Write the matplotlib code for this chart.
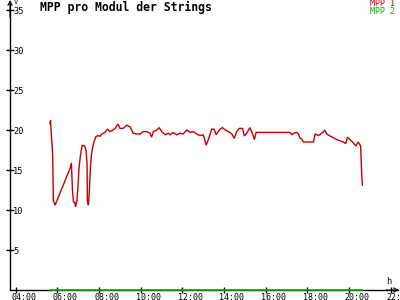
import matplotlib
matplotlib.use("Agg")
import matplotlib.pyplot as plt
from matplotlib.transforms import ScaledTranslation, blended_transform_factory

title = "MPP pro Modul der Strings"
series_names = ["MPP 1", "MPP 2"]
series_colors = ["#c40000", "#00b400"]

times = ["05:39", "05:41", "05:42", "05:47", "05:49", "05:54", "06:37", "06:41", "06:44", "06:47",
         "06:50", "06:53", "06:57", "07:00", "07:03", "07:07", "07:12", "07:19", "07:23", "07:26",
         "07:27", "07:30", "07:33", "07:36", "07:39", "07:43", "07:46", "07:52", "07:58", "08:03",
         "08:09", "08:18", "08:24", "08:32", "08:41", "08:47", "08:55", "09:01", "09:10", "09:20",
         "09:30", "09:39", "09:49", "09:59", "10:08", "10:18", "10:27", "10:32", "10:37", "10:47",
         "10:54", "11:01", "11:11", "11:20", "11:25", "11:34", "11:44", "11:54", "12:03", "12:13",
         "12:23", "12:32", "12:42", "12:51", "13:01", "13:09", "13:15", "13:20", "13:25", "13:32",
         "13:38", "13:44", "13:49", "13:56", "14:04", "14:13", "14:23", "14:30", "14:37", "14:45",
         "14:54", "14:59", "15:06", "15:15", "15:23", "15:28", "15:33", "15:39", "17:11", "17:16",
         "17:22", "17:30", "17:35", "17:39", "17:44", "17:49", "18:18", "18:23", "18:28", "18:32",
         "18:39", "18:45", "18:51", "18:56", "19:06", "19:25", "19:44", "19:51", "19:56", "20:03",
         "20:11", "20:20", "20:27", "20:34", "20:37", "20:39"]

mpp1 = [20.8, 21.2, 20.2, 17.0, 11.2, 10.6, 15.2, 15.9, 12.5, 11.0,
        11.0, 10.4, 11.2, 13.0, 15.3, 16.8, 18.1, 18.0, 17.5, 15.8,
        11.1, 10.6, 12.7, 15.5, 17.0, 18.0, 18.5, 19.2, 19.3, 19.2,
        19.5, 19.7, 20.1, 19.8, 20.0, 20.2, 20.75, 20.2, 20.2, 20.6,
        20.4, 19.6, 19.5, 19.5, 19.8, 19.8, 19.6, 19.1, 19.8, 20.0,
        20.3, 19.8, 19.4, 19.6, 19.4, 19.7, 19.4, 19.6, 19.5, 20.0,
        19.7, 19.8, 19.5, 19.3, 19.4, 18.1, 18.75, 19.4, 20.1, 20.1,
        19.4, 19.8, 20.1, 20.3, 20.0, 19.8, 19.5, 18.95, 19.8, 20.2,
        20.2, 19.25, 19.6, 20.3, 19.5, 18.8, 19.7, 19.7, 19.7, 19.4,
        19.6, 19.7, 19.5, 19.0, 18.9, 18.5, 18.5, 19.5, 19.4, 19.3,
        19.5, 19.7, 20.0, 19.5, 19.25, 18.8, 18.5, 18.3, 19.1, 18.8,
        18.5, 18.0, 18.5, 18.0, 14.6, 13.1]

mpp2 = [0.0] * len(times)

x_ticks = [4, 6, 8, 10, 12, 14, 16, 18, 20, 22]
x_tick_labels = ["04:00", "06:00", "08:00", "10:00", "12:00", "14:00", "16:00", "18:00", "20:00", "22:00"]
y_ticks = [5, 10, 15, 20, 25, 30, 35]
y_tick_labels = ["5", "10", "15", "20", "25", "30", "35"]


def to_hours(t):
    h, m = t.split(":")
    return int(h) + int(m) / 60.0


hours = [to_hours(t) for t in times]

fig = plt.figure(figsize=(4, 3), dpi=100)
fig.patch.set_facecolor("white")
ax = fig.add_axes([10 / 400, 10 / 300, 388 / 400, 287 / 300])
ax.set_facecolor("white")
ax.set_xlim(3.736, 22.36)
ax.set_ylim(0, 35.875)

for sp in ["top", "right"]:
    ax.spines[sp].set_visible(False)
for sp in ["left", "bottom"]:
    ax.spines[sp].set_color("black")
    ax.spines[sp].set_linewidth(1.0)

ax.plot(hours, mpp1, color=series_colors[0], lw=1.0, solid_joinstyle="miter", zorder=3)
ax.plot(hours, mpp2, color=series_colors[1], lw=1.2, zorder=4, clip_on=False)

mono = "DejaVu Sans Mono"
ax.set_xticks(x_ticks)
ax.set_xticklabels(x_tick_labels, fontsize=6.0, family=mono, ha="left")
ax.tick_params(axis="x", direction="inout", length=5, width=1, pad=0.0, colors="black")
off = ScaledTranslation(-4.5 / 100, 0, fig.dpi_scale_trans)
for lab in ax.get_xticklabels():
    lab.set_transform(lab.get_transform() + off)

ax.set_yticks(y_ticks)
ax.set_yticklabels([])
ax.tick_params(axis="y", direction="inout", length=6, width=1, colors="black")
ytr = blended_transform_factory(ax.transAxes, ax.transData)
yoff = ScaledTranslation(3 / 100, -1 / 100, fig.dpi_scale_trans)
for v, s in zip(y_ticks, y_tick_labels):
    ax.text(0, v, s, transform=ytr + yoff, fontsize=6.2, family=mono,
            ha="left", va="center", color="black")

# axis arrows
ax.annotate("", xy=(0, 1.0 + 3 / 287), xytext=(0, 0.95), xycoords="axes fraction",
            arrowprops=dict(arrowstyle="->,head_length=0.3,head_width=0.15", lw=0.8, color="black",
                            shrinkA=0, shrinkB=0), annotation_clip=False)
ax.annotate("", xy=(1.0 + 1 / 388, 0), xytext=(0.97, 0), xycoords="axes fraction",
            arrowprops=dict(arrowstyle="->,head_length=0.3,head_width=0.15", lw=0.8, color="black",
                            shrinkA=0, shrinkB=0), annotation_clip=False)

fig.text(14 / 400, 1 - 2.5 / 300, "V", fontsize=5.0, family=mono, ha="left", va="center")
fig.text(386 / 400, 1 - 282 / 300, "h", fontsize=6.2, family=mono, ha="left", va="center")

fig.text(40 / 400, 1 - 7.5 / 300, title, fontsize=8.3, family=mono, fontweight="bold",
         ha="left", va="center", color="black")
fig.text(395 / 400, 1 - 4 / 300, series_names[0], fontsize=6, family=mono,
         ha="right", va="center", color=series_colors[0])
fig.text(395 / 400, 1 - 12 / 300, series_names[1], fontsize=6, family=mono,
         ha="right", va="center", color=series_colors[1])

fig.savefig("out.png", dpi=100, facecolor="white")
